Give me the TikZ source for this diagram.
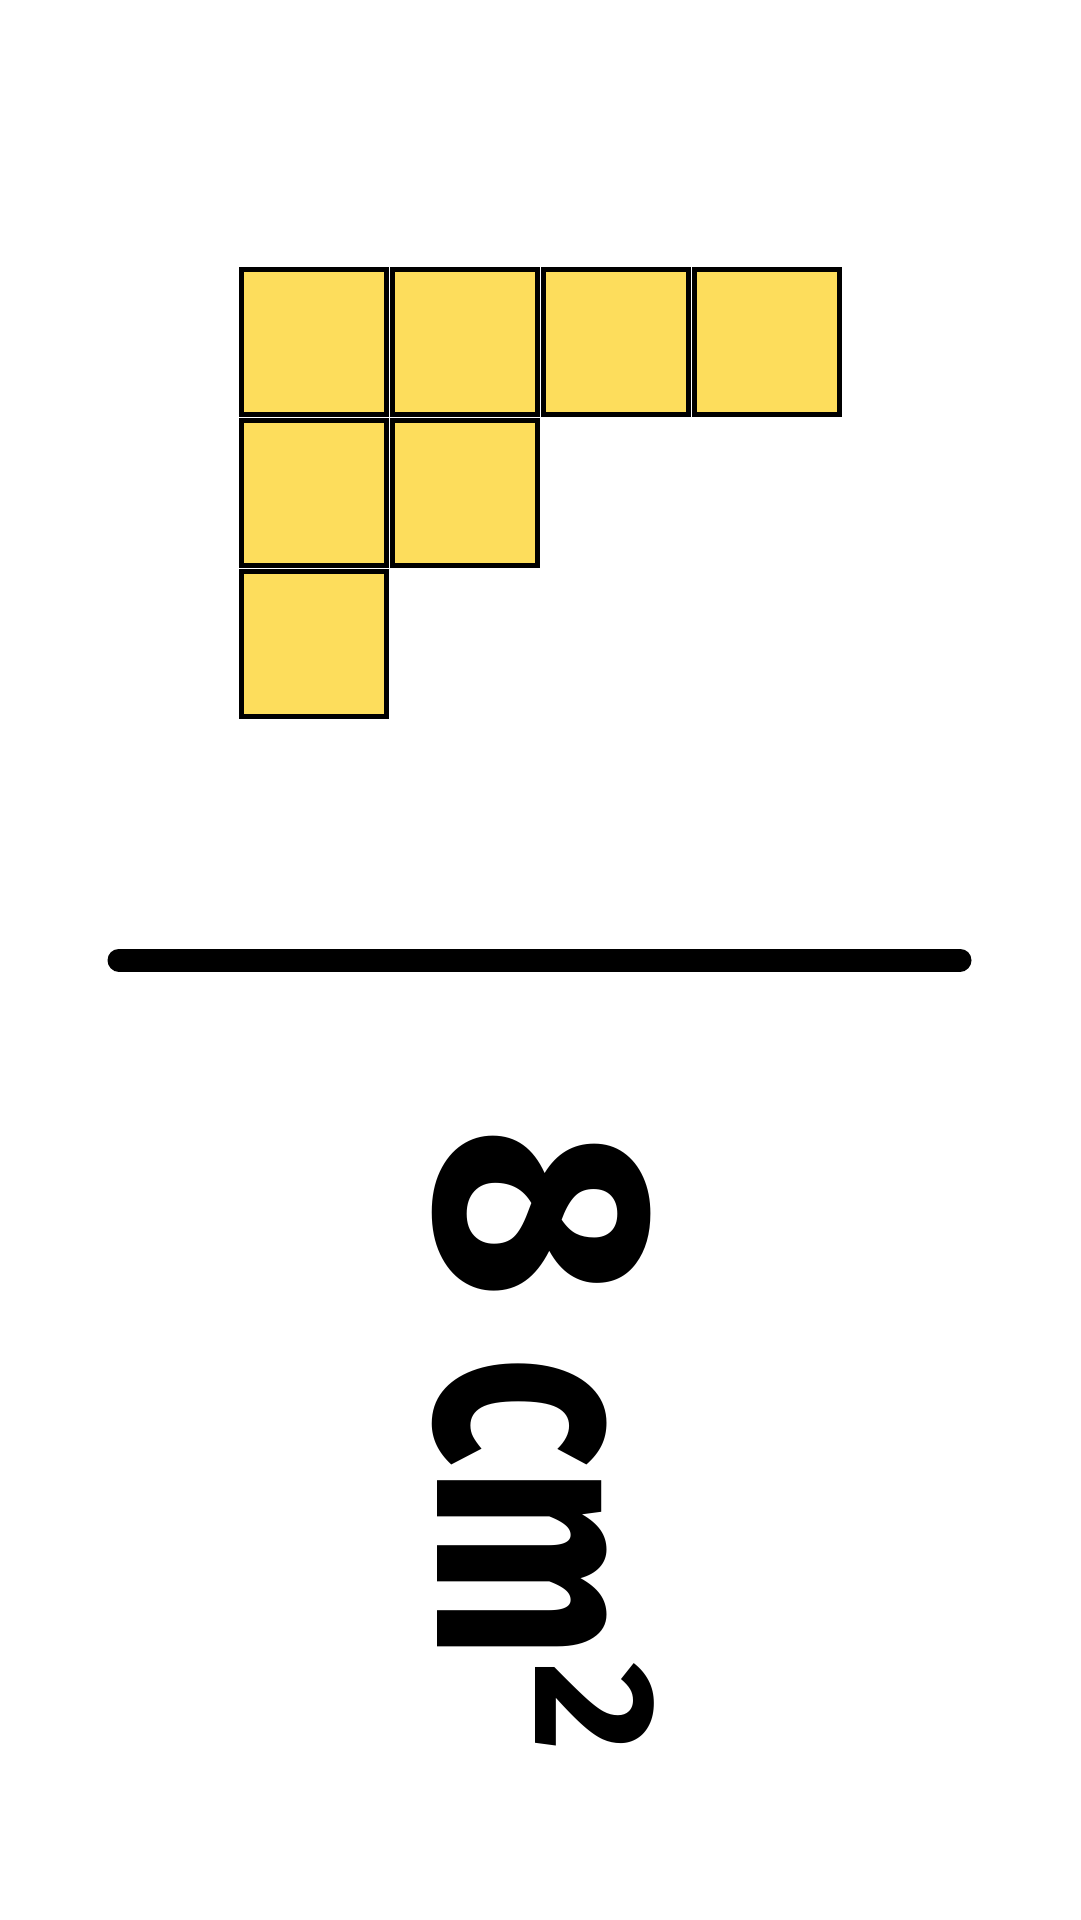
\documentclass[tikz,border=0pt]{standalone}
\usepackage{fontspec}
\usepackage{graphicx}
\setmainfont{Fira Sans}
\definecolor{tileyellow}{HTML}{FDDD5C}

\begin{document}
\begin{tikzpicture}[x=0.1mm, y=-0.1mm]
        % Style definitions
        \tikzset{
            tile/.style={draw=black, fill=tileyellow, line width=0.5mm, minimum size=14.5mm, inner sep=0, outer sep=0},
            bar/.style={black, line width=2.3mm, line cap=round},
            areatext/.style={rotate=-90, anchor=base west, inner sep=0, font=\bfseries\fontsize{88}{88}\selectfont}
        }
        \useasboundingbox (0,0) rectangle (1080,1920);

        % ==========================================
        % TILES (four, two, one)
        % ==========================================
        \node[tile] (t11) at (314,342) {};
        \node[tile] (t12) at (465,342) {};
        \node[tile] (t13) at (616,342) {};
        \node[tile] (t14) at (767,342) {};
        \node[tile] (t21) at (314,493) {};
        \node[tile] (t22) at (465,493) {};
        \node[tile] (t31) at (314,644) {};

        % ==========================================
        % DIVIDER
        % ==========================================
        \coordinate (barL) at (119,960);
        \coordinate (barR) at (960,960);
        \draw[bar] (barL) -- (barR);

        % ==========================================
        % AREA LABEL (turned a quarter clockwise)
        % ==========================================
        \node[areatext] (area) at (437,1127) {\scalebox{0.96}[1]{8}\hspace{16pt}\scalebox{0.74}[1]{cm}\hspace{1pt}\scalebox{1.0}[1]{\raisebox{27.9pt}{\fontsize{49}{49}\selectfont 2}}};
\end{tikzpicture}
\end{document}
